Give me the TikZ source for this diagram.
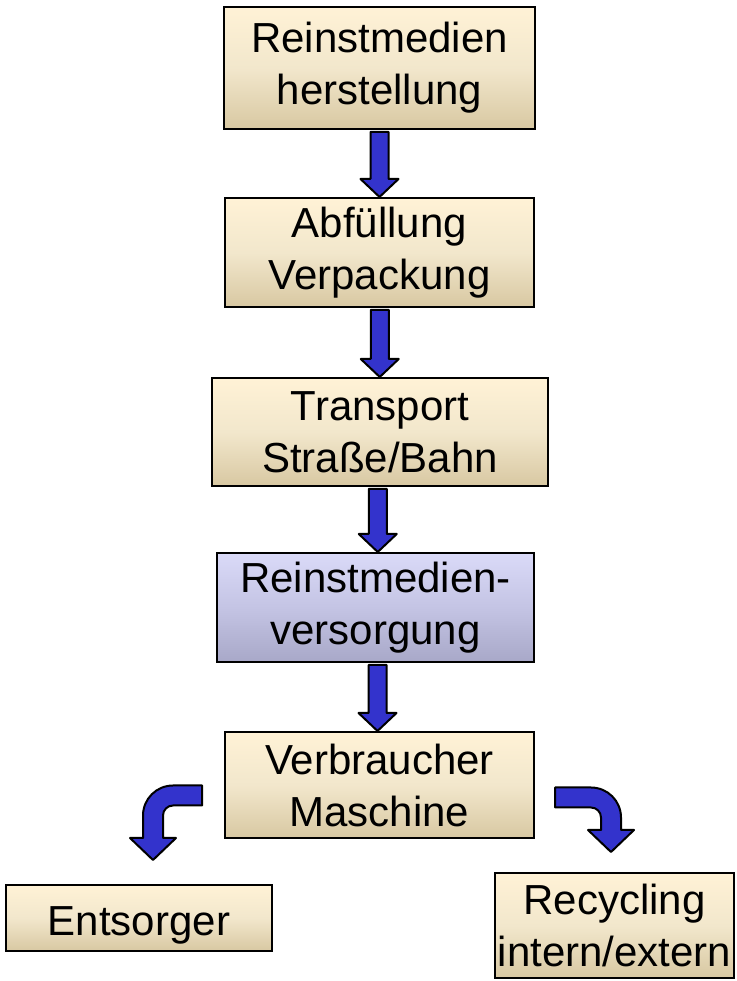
\documentclass[tikz,border=0pt]{standalone}
\usepackage{fontspec}
\setmainfont{Liberation Sans}
\usetikzlibrary{calc}
\definecolor{cremeH}{HTML}{FFF2D6}
\definecolor{cremeM}{HTML}{F2E7CC}
\definecolor{cremeB}{HTML}{D8C8A2}
\definecolor{bleuH}{HTML}{DADAF8}
\definecolor{bleuM}{HTML}{C4C4E4}
\definecolor{bleuB}{HTML}{A8A8C8}
\definecolor{fleche}{HTML}{3333CC}
% fleche droite entre deux boites
\newcommand{\fleche}[2]{%
\draw[bloc] let \p1=(#1.south), \p2=(#2.north), \n1={0.5*(\x1+\x2)} in
(\n1-9pt,\y1-2pt) -- (\n1-9pt,\y2+18pt) -- (\n1-19pt,\y2+18pt) -- (\n1,\y2)
-- (\n1+19pt,\y2+18pt) -- (\n1+9pt,\y2+18pt) -- (\n1+9pt,\y1-2pt) -- cycle;}
% fleche courbee : queue, pointe, sens (+1 ou -1)
\newcommand{\flechecourbe}[3]{%
\draw[bloc] let \p1=(#1), \p2=(#2), \n1={#3} in
(\x1,\y1+10pt) -- ({\x2-\n1*20pt},\y1+10pt)
arc[start angle=90, end angle={90-\n1*90}, radius=30pt]
-- ({\x2+\n1*10pt},\y2+22pt) -- ({\x2+\n1*23pt},\y2+22pt) -- (\x2,\y2)
-- ({\x2-\n1*23pt},\y2+22pt) -- ({\x2-\n1*10pt},\y2+22pt) -- ({\x2-\n1*10pt},\y1-20pt)
arc[start angle={90-\n1*90}, end angle=90, radius=10pt]
-- (\x1,\y1-10pt) -- cycle;}
\begin{document}
\begin{tikzpicture}[x=1pt, y=1pt,
boite/.style={draw=black, line width=2pt, top color=cremeH, bottom color=cremeB,
  middle color=cremeM, inner sep=0pt, align=center,
  font=\fontsize{42}{52}\selectfont, execute at begin node={\rule{0pt}{43pt}}},
boitebleue/.style={boite, top color=bleuH, bottom color=bleuB, middle color=bleuM},
bloc/.style={draw=black, line width=2pt, fill=fleche, line join=round}]
\useasboundingbox (0,0) rectangle (736,981);
%
\node[boite, minimum width=311pt, minimum height=122pt] (herst) at (379.5,913)
{Reinstmedien\\herstellung};
\node[boite, minimum width=309pt, minimum height=109pt] (abf) at (379.5,728.5)
{Abfüllung\\Verpackung};
\node[boite, minimum width=336pt, minimum height=108pt] (trans) at (380,549)
{Transport\\Straße/Bahn};
\node[boitebleue, minimum width=317pt, minimum height=109pt] (vers) at (375.5,373.5)
{Reinstmedien-\\versorgung};
\node[boite, minimum width=309pt, minimum height=106pt] (verbr) at (379.5,196)
{Verbraucher\\Maschine};
\node[boite, minimum width=266pt, minimum height=66pt] (ents) at (139,63)
{Entsorger};
\node[boite, minimum width=239pt, minimum height=105pt] (recyc) at (614.5,55.5)
{Recycling\\intern/extern};
%
\fleche{herst}{abf}
\fleche{abf}{trans}
\fleche{trans}{vers}
\fleche{vers}{verbr}
%
\coordinate (gauche) at ([xshift=-22pt, yshift=-10.5pt]verbr.west);
\coordinate (pointeG) at ([xshift=14pt, yshift=24pt]ents.north);
\coordinate (droite) at ([xshift=20pt, yshift=-12.5pt]verbr.east);
\coordinate (pointeD) at ([xshift=-3.5pt, yshift=20pt]recyc.north);
\flechecourbe{gauche}{pointeG}{-1}
\flechecourbe{droite}{pointeD}{1}
\end{tikzpicture}
\end{document}
